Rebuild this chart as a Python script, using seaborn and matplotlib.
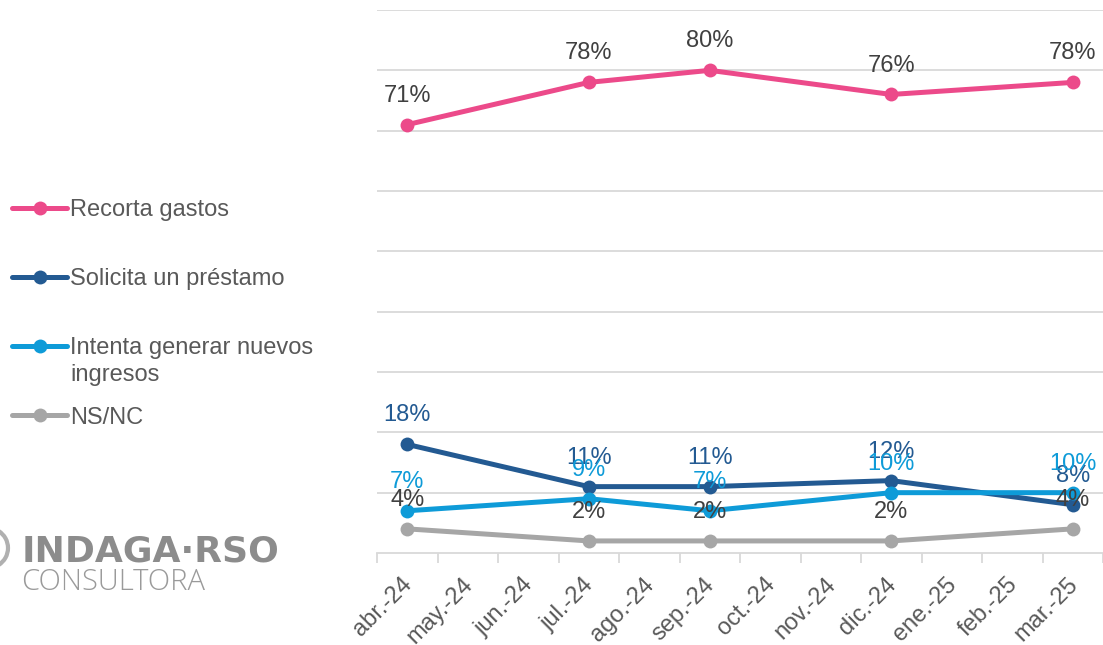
import matplotlib
matplotlib.use("Agg")
import matplotlib.pyplot as plt
import seaborn as sns
import pandas as pd
import numpy as np
from matplotlib.patches import Arc
from matplotlib.lines import Line2D
from matplotlib.transforms import ScaledTranslation

# ---- data ----
months = ["abr.-24", "may.-24", "jun.-24", "jul.-24", "ago.-24", "sep.-24",
          "oct.-24", "nov.-24", "dic.-24", "ene.-25", "feb.-25", "mar.-25"]
survey_months = ["abr.-24", "jul.-24", "sep.-24", "dic.-24", "mar.-25"]
series_names = ["Recorta gastos", "Solicita un préstamo",
                "Intenta generar nuevos ingresos", "NS/NC"]
recorta = [71, 78, 80, 76, 78]
solicita = [18, 11, 11, 12, 8]
intenta = [7, 9, 7, 10, 10]
nsnc = [4, 2, 2, 2, 4]

line_colors = ["#EC4A8A", "#235A92", "#0E9BD8", "#A6A6A6"]
label_colors = ["#404040", "#235A92", "#0E9BD8", "#404040"]

values = [recorta, solicita, intenta, nsnc]
rows = []
for name, vals in zip(series_names, values):
    for m, v in zip(survey_months, vals):
        rows.append({"serie": name, "mes": months.index(m), "valor": v})
df = pd.DataFrame(rows)

sns.set_theme(style="white")
plt.rcParams["font.family"] = ["Liberation Sans", "DejaVu Sans"]

fig = plt.figure(figsize=(11.03, 6.45), dpi=100)
ax = fig.add_axes([377 / 1103, 1 - 553 / 645, 1 - 377 / 1103, (553 - 10) / 645])

palette = dict(zip(series_names, line_colors))
sns.lineplot(data=df, x="mes", y="valor", hue="serie", hue_order=series_names,
             palette=palette, marker="o", markersize=10, markeredgewidth=0,
             linewidth=3.6, ax=ax, legend=False, zorder=3)

# data labels
for name, vals, lc in zip(series_names, values, label_colors):
    for m, v in zip(survey_months, vals):
        ax.annotate(f"{v}%", (months.index(m), v), xytext=(0, 16.5),
                    textcoords="offset points", ha="center", va="baseline",
                    fontsize=17, color=lc, zorder=5)

ax.set_xlim(-0.5, len(months) - 0.5)
ax.set_ylim(0, 90)
ax.set_yticks(np.arange(10, 91, 10))
ax.yaxis.grid(True, color="#D9D9D9", linewidth=1.3)
ax.tick_params(axis="y", left=False, labelleft=False)
ax.set_xticks(range(len(months)))
ax.set_xticklabels(months, rotation=45, ha="right", rotation_mode="anchor",
                   fontsize=17, color="#595959")
ax.set_xticks(np.arange(-0.5, len(months), 1.0), minor=True)
ax.tick_params(axis="x", which="major", length=0, pad=14)
ax.tick_params(axis="x", which="minor", length=7, width=1.3, color="#D9D9D9",
               bottom=True)
shift = ScaledTranslation(-6 / 100, -1 / 100, fig.dpi_scale_trans)
for lbl in ax.get_xticklabels():
    lbl.set_transform(lbl.get_transform() + shift)
ax.set_xlabel("")
ax.set_ylabel("")
for s in ["top", "left", "right"]:
    ax.spines[s].set_visible(False)
ax.spines["bottom"].set_color("#D9D9D9")
ax.spines["bottom"].set_linewidth(1.3)
ax.set_facecolor("none")

# legend
leg_labels = ["Recorta gastos", "Solicita un préstamo", "Intenta generar nuevos", "NS/NC"]
handles = [Line2D([0], [0], color=c, lw=3.6, marker="o", markersize=10,
                  markeredgewidth=0) for c in line_colors]
leg = fig.legend(handles, leg_labels, loc="upper left",
                 bbox_to_anchor=(12 / 1103, 1 - 199 / 645), frameon=False,
                 fontsize=17, labelcolor="#595959", handlelength=2.35,
                 handletextpad=0.1, labelspacing=2.0, borderpad=0,
                 borderaxespad=0)
fig.text(70 / 1103, 1 - 375 / 645, "ingresos", fontsize=17, color="#595959",
         ha="left", va="center")

# logo
fig.text(22 / 1103, 1 - 551 / 645, "INDAGA·RSO", fontsize=26, fontweight="bold",
         color="#8C8C8C", ha="left", va="center", family=["DejaVu Sans"])
fig.text(21 / 1103, 1 - 582 / 645, "CONSULTORA", fontsize=21, fontweight="light",
         color="#9A9A9A", ha="left", va="center", family=["Open Sans", "DejaVu Sans"])
arc = Arc((-12 / 1103, 1 - 548 / 645), 40 / 1103, 40 / 645, theta1=-70, theta2=70,
          transform=fig.transFigure, color="#B0B0B0", lw=3)
fig.add_artist(arc)

fig.savefig("out.png", dpi=100)
